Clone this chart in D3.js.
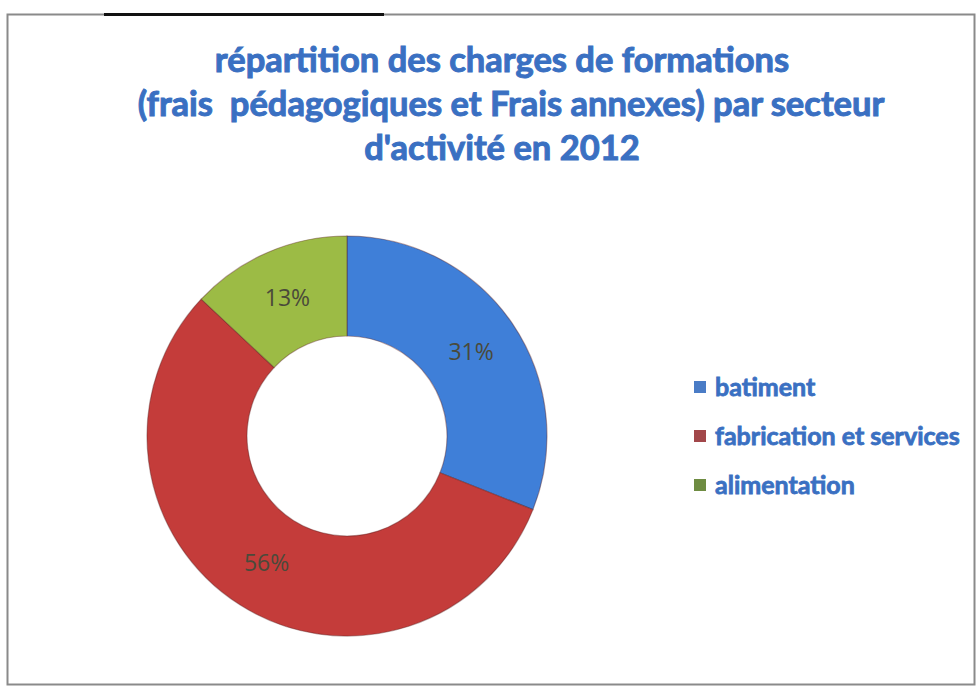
<!DOCTYPE html>
<html>
<head>
<meta charset="utf-8">
<script src="https://cdn.jsdelivr.net/npm/d3@7"></script>
<style>
  body { margin: 0; background: #fff; }
  svg { display: block; }
</style>
</head>
<body>
<svg width="979" height="688"></svg>
<script>
var categories = ["batiment", "fabrication et services", "alimentation"];
var values = [31, 56, 13];
var sliceColors = ["#3f7fd8", "#c43c3a", "#9cbb45"];
var keyColors = ["#4a7cc6", "#a2474a", "#6e8c42"];
var titleLines = [
    "répartition des charges de formations",
    "(frais  pédagogiques et Frais annexes) par secteur",
    "d'activité en 2012"
];

var svg = d3.select("svg"),
    width = +svg.attr("width"),
    height = +svg.attr("height");

// chart frame
svg.append("rect")
    .attr("x", 7.5).attr("y", 14.5)
    .attr("width", 967).attr("height", 670)
    .attr("fill", "none")
    .attr("stroke", "#8a8a8a")
    .attr("stroke-width", 2);
svg.append("line")
    .attr("x1", 104).attr("x2", 384)
    .attr("y1", 14.5).attr("y2", 14.5)
    .attr("stroke", "#111")
    .attr("stroke-width", 3);

// title
svg.append("g")
    .selectAll("text")
    .data(titleLines)
    .enter().append("text")
    .attr("x", function (d, i) { return i === 1 ? 511 : 502; })
    .attr("y", function (d, i) { return 72 + i * 44; })
    .attr("text-anchor", "middle")
    .attr("font-family", "Lato, 'Open Sans', sans-serif")
    .attr("font-weight", 700)
    .attr("font-size", 34.5)
    .attr("fill", "#3a70c2")
    .attr("stroke", "#3a70c2")
    .attr("stroke-width", 1)
    .style("white-space", "pre")
    .text(function (d) { return d; });

// donut
var cx = 347, cy = 436, outerR = 200, innerR = 100;

var pie = d3.pie().sort(null).value(function (d) { return d; });
var arc = d3.arc().innerRadius(innerR).outerRadius(outerR);
var labelArc = d3.arc().innerRadius(150).outerRadius(150);

var total = d3.sum(values);
var arcs = pie(values);

var g = svg.append("g")
    .attr("transform", "translate(" + cx + "," + cy + ")");

g.selectAll("path")
    .data(arcs)
    .enter().append("path")
    .attr("d", arc)
    .attr("fill", function (d, i) { return sliceColors[i]; })
    .attr("stroke", "#5a2020")
    .attr("stroke-opacity", 0.4)
    .attr("stroke-width", 1.2);

g.selectAll("text")
    .data(arcs)
    .enter().append("text")
    .attr("transform", function (d) { return "translate(" + labelArc.centroid(d) + ")"; })
    .attr("text-anchor", "middle")
    .attr("dy", "0.35em")
    .attr("font-family", "'Open Sans', sans-serif")
    .attr("font-size", 23)
    .attr("fill", "#4a4a3a")
    .text(function (d) { return Math.round(d.value / total * 100) + "%"; });

// legend
var legend = svg.append("g")
    .attr("transform", "translate(694,387)");

var item = legend.selectAll("g")
    .data(categories)
    .enter().append("g")
    .attr("transform", function (d, i) { return "translate(0," + (i * 49) + ")"; });

item.append("rect")
    .attr("x", 0).attr("y", -6)
    .attr("width", 12).attr("height", 12)
    .attr("fill", function (d, i) { return keyColors[i]; });

item.append("text")
    .attr("x", 21)
    .attr("dy", "0.35em")
    .attr("font-family", "Lato, 'Open Sans', sans-serif")
    .attr("font-weight", 700)
    .attr("font-size", 25)
    .attr("fill", "#3a70c2")
    .attr("stroke", "#3a70c2")
    .attr("stroke-width", 0.8)
    .text(function (d) { return d; });
</script>
</body>
</html>
